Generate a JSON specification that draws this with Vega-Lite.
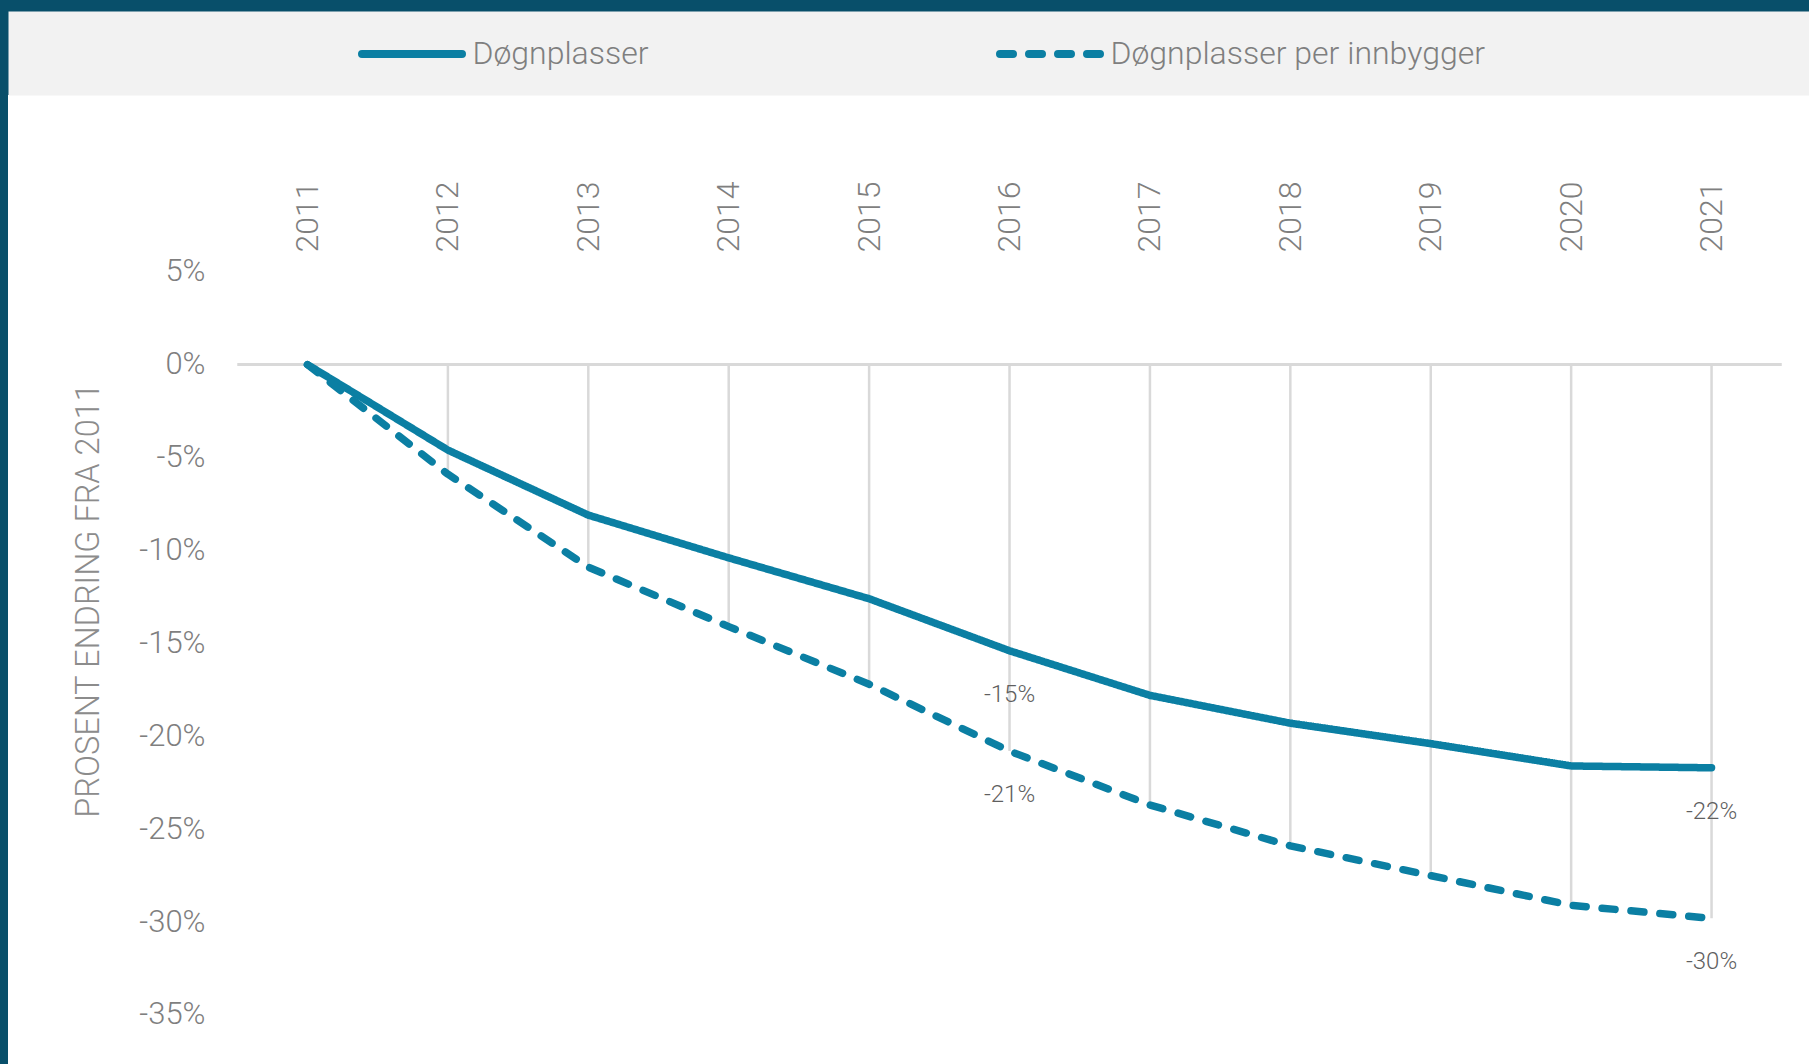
{
  "$schema": "https://vega.github.io/schema/vega-lite/v6.json",
  "width": 1801,
  "height": 969,
  "autosize": {"type": "none"},
  "padding": {"left": 8, "top": 95, "right": 0, "bottom": 0},
  "background": "#084F6A",
  "config": {
    "view": {"fill": "#FFFFFF", "stroke": null},
    "font": "Roboto",
    "locale": {"number": {"decimal": ".", "thousands": ",", "grouping": [3], "currency": ["", ""], "minus": "-"}}
  },
  "data": {
    "values": [
      {"year": 2011, "serie": "Døgnplasser", "value": 0},
      {"year": 2012, "serie": "Døgnplasser", "value": -0.046},
      {"year": 2013, "serie": "Døgnplasser", "value": -0.081},
      {"year": 2014, "serie": "Døgnplasser", "value": -0.104},
      {"year": 2015, "serie": "Døgnplasser", "value": -0.126},
      {"year": 2016, "serie": "Døgnplasser", "value": -0.154},
      {"year": 2017, "serie": "Døgnplasser", "value": -0.178},
      {"year": 2018, "serie": "Døgnplasser", "value": -0.193},
      {"year": 2019, "serie": "Døgnplasser", "value": -0.204},
      {"year": 2020, "serie": "Døgnplasser", "value": -0.216},
      {"year": 2021, "serie": "Døgnplasser", "value": -0.217},
      {"year": 2011, "serie": "Døgnplasser per innbygger", "value": 0},
      {"year": 2012, "serie": "Døgnplasser per innbygger", "value": -0.059},
      {"year": 2013, "serie": "Døgnplasser per innbygger", "value": -0.109},
      {"year": 2014, "serie": "Døgnplasser per innbygger", "value": -0.141},
      {"year": 2015, "serie": "Døgnplasser per innbygger", "value": -0.172},
      {"year": 2016, "serie": "Døgnplasser per innbygger", "value": -0.208},
      {"year": 2017, "serie": "Døgnplasser per innbygger", "value": -0.237},
      {"year": 2018, "serie": "Døgnplasser per innbygger", "value": -0.259},
      {"year": 2019, "serie": "Døgnplasser per innbygger", "value": -0.275},
      {"year": 2020, "serie": "Døgnplasser per innbygger", "value": -0.291},
      {"year": 2021, "serie": "Døgnplasser per innbygger", "value": -0.298}
    ]
  },
  "layer": [
    {
      "data": {"values": [{}]},
      "mark": {"type": "rule", "color": "#D9D9D9", "strokeWidth": 3},
      "encoding": {
        "x": {
          "datum": 2010.5,
          "type": "quantitative",
          "scale": {"domain": [2008.867, 2021.694], "nice": false, "zero": false},
          "axis": {"orient": "top", "offset": 42, "domainColor": "#F2F2F2", "domainWidth": 84, "domainCap": "square", "domainDash": [1738, 100], "domainDashOffset": 1796, "labels": false, "ticks": false, "grid": false, "title": null}
        },
        "x2": {"datum": 2021.5},
        "y": {
          "datum": 0,
          "type": "quantitative",
          "scale": {"domain": [-0.3764, 0.1451], "nice": false, "zero": false}
        }
      }
    },
    {
      "transform": [{"filter": "datum.serie == 'Døgnplasser per innbygger'"}],
      "mark": {"type": "rule", "color": "#D9D9D9", "strokeWidth": 2.5},
      "encoding": {
        "x": {"field": "year", "type": "quantitative", "axis": null},
        "y": {"field": "value", "type": "quantitative"},
        "y2": {"datum": 0}
      }
    },
    {
      "mark": {"type": "line", "color": "#0B7FA3", "strokeWidth": 7.5, "strokeCap": "round", "strokeJoin": "round"},
      "encoding": {
        "x": {
          "field": "year",
          "type": "quantitative",
          "axis": {
            "orient": "top", "offset": -158,
            "values": [2011, 2012, 2013, 2014, 2015, 2016, 2017, 2018, 2019, 2020, 2021],
            "format": "d", "labelAngle": -90, "labelPadding": 1, "labelFlush": false, "labelOverlap": false,
            "ticks": false, "tickSize": 0, "domain": false, "grid": false, "title": null,
            "labelFontSize": 32, "labelFont": "Roboto", "labelFontWeight": 300, "labelColor": "#7F7F7F"
          }
        },
        "y": {
          "field": "value",
          "type": "quantitative",
          "axis": {
            "orient": "left", "offset": -231,
            "values": [0.05, 0, -0.05, -0.1, -0.15, -0.2, -0.25, -0.3, -0.35],
            "format": ".0%", "labelPadding": 34, "ticks": false, "tickSize": 0, "domain": false, "grid": false,
            "labelFontSize": 31, "labelFont": "Roboto", "labelFontWeight": 300, "labelColor": "#7F7F7F",
            "title": "PROSENT ENDRING FRA 2011",
            "titleFontSize": 32.5, "titleFont": "Roboto", "titleFontWeight": 300, "titleColor": "#8C8C8C",
            "titleX": -141, "titleY": 505, "titleBaseline": "alphabetic", "titleAngle": 270, "titleAlign": "center"
          }
        },
        "strokeDash": {
          "field": "serie",
          "type": "nominal",
          "scale": {"domain": ["Døgnplasser", "Døgnplasser per innbygger"], "range": [[1, 0], [13, 16]]},
          "legend": {
            "orient": "none", "legendX": 350, "legendY": -95, "direction": "horizontal", "title": null,
            "symbolType": "stroke", "symbolSize": 10000, "symbolStrokeWidth": 8, "symbolStrokeColor": "#0B7FA3",
            "labelFontSize": 32, "labelFont": "Roboto", "labelFontWeight": 300, "labelColor": "#7F7F7F",
            "labelOffset": 6.5, "columnPadding": 335, "labelLimit": 700, "padding": 0,
            "encode": {"symbols": {"update": {"strokeCap": {"value": "round"}}}}
          }
        }
      }
    },
    {
      "transform": [{"filter": "datum.year == 2016 || datum.year == 2021"}],
      "mark": {"type": "text", "dy": 44, "fontSize": 24, "font": "Roboto", "fontWeight": 300, "color": "#5F5F5F", "align": "center", "baseline": "middle"},
      "encoding": {
        "x": {"field": "year", "type": "quantitative", "axis": null},
        "y": {"field": "value", "type": "quantitative"},
        "text": {"field": "value", "type": "quantitative", "format": ".0%"}
      }
    }
  ],
  "resolve": {"axis": {"x": "independent"}}
}
